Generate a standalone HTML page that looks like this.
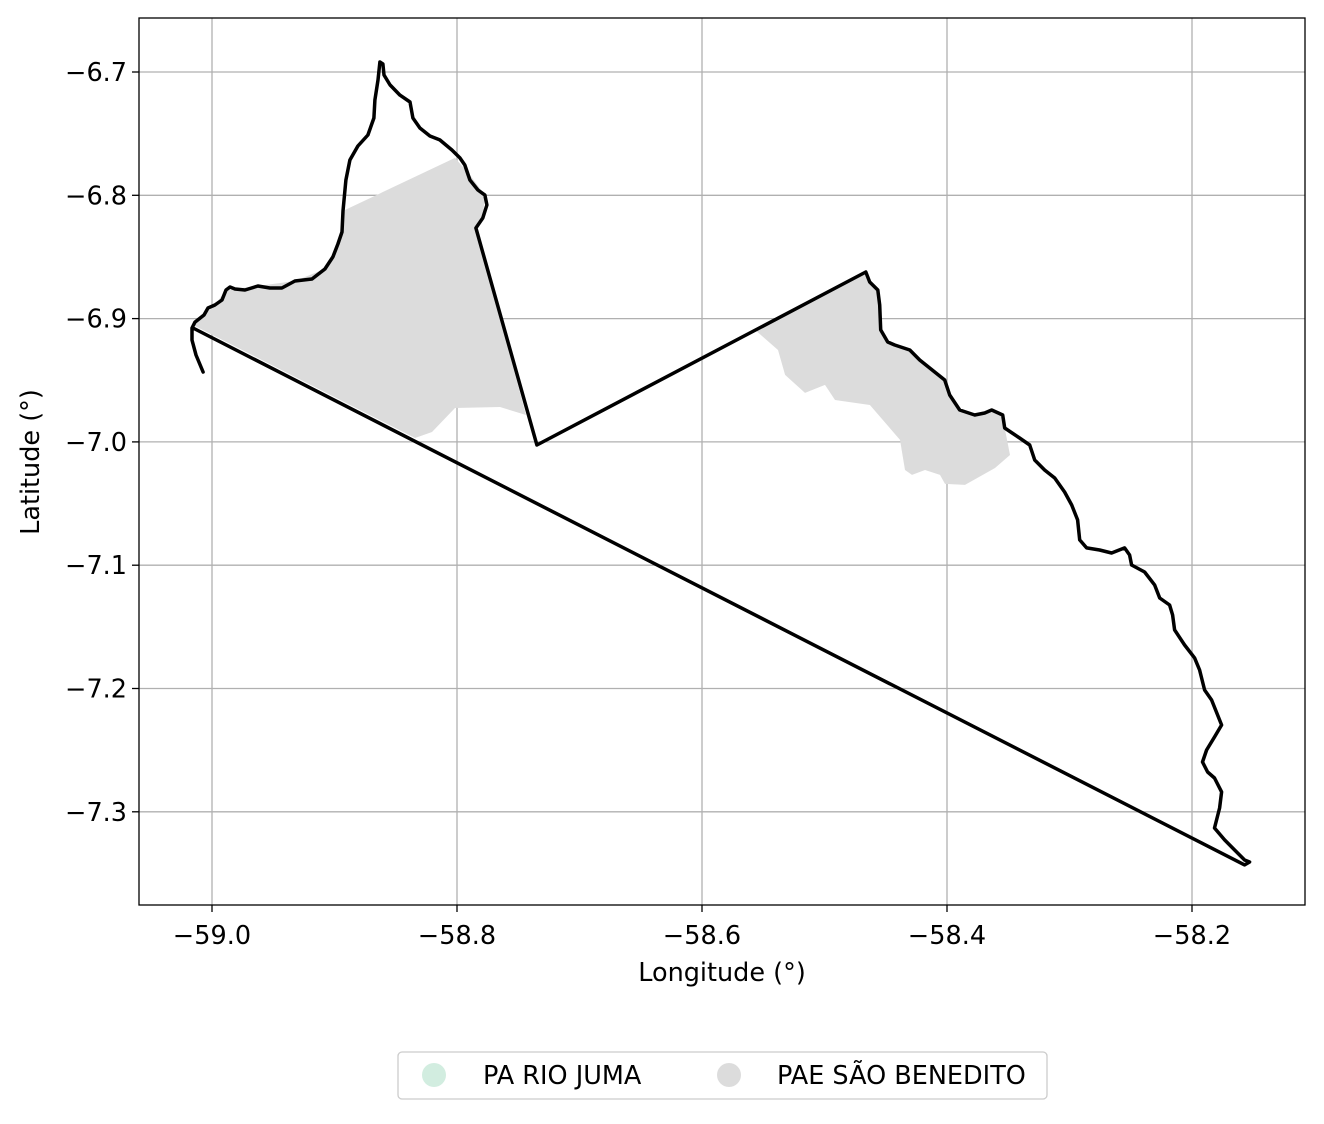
<!DOCTYPE html>
<html><head><meta charset="utf-8"><style>
html,body{margin:0;padding:0;background:#fff;}
svg text{font-family:"DejaVu Sans","Liberation Sans",sans-serif;}
</style></head><body>
<svg id="chart" width="1324" height="1119" xmlns="http://www.w3.org/2000/svg">
<rect width="1324" height="1119" fill="#fff"/>
<g id="grid"></g>
<g id="areas"></g>
<g id="outline"></g>
<rect x="139" y="18" width="1166" height="887" fill="none" stroke="#000" stroke-width="1.3"/>
<g id="ticks"></g>
<text x="722" y="981" font-size="25.5" text-anchor="middle">Longitude (°)</text>
<text transform="translate(39,462) rotate(-90)" font-size="25.5" text-anchor="middle">Latitude (°)</text>
<g>
<rect x="398" y="1052" width="649" height="47" rx="4" fill="#fff" stroke="#ccc" stroke-width="1.3"/>
<circle cx="434" cy="1075" r="12" fill="#d2ede0"/>
<text x="483" y="1084" font-size="25.5">PA RIO JUMA</text>
<circle cx="729" cy="1075" r="12" fill="#dcdcdc"/>
<text x="777" y="1084" font-size="25.5">PAE SÃO BENEDITO</text>
</g>
</svg>
<script>
const xTicks=[-59.0,-58.8,-58.6,-58.4,-58.2];
const yTicks=[-6.7,-6.8,-6.9,-7.0,-7.1,-7.2,-7.3];
const xTickLabels=["−59.0","−58.8","−58.6","−58.4","−58.2"];
const yTickLabels=["−6.7","−6.8","−6.9","−7.0","−7.1","−7.2","−7.3"];
const outlineLonLat=[[-59.0073,-6.9433],[-59.0131,-6.9295],[-59.0163,-6.9174],[-59.0163,-6.9076],[-59.0139,-6.9028],[-59.0065,-6.8971],[-59.0033,-6.8914],[-58.9976,-6.8890],[-58.9918,-6.8849],[-58.9886,-6.8768],[-58.9853,-6.8744],[-58.9812,-6.8760],[-58.9731,-6.8768],[-58.9625,-6.8736],[-58.9527,-6.8752],[-58.9429,-6.8752],[-58.9323,-6.8695],[-58.9184,-6.8679],[-58.9078,-6.8598],[-58.9013,-6.8500],[-58.8972,-6.8395],[-58.8939,-6.8298],[-58.8931,-6.8127],[-58.8907,-6.7876],[-58.8874,-6.7714],[-58.8809,-6.7600],[-58.8727,-6.7511],[-58.8678,-6.7373],[-58.8670,-6.7227],[-58.8645,-6.7065],[-58.8629,-6.6919],[-58.8605,-6.6935],[-58.8596,-6.7024],[-58.8547,-6.7105],[-58.8466,-6.7187],[-58.8384,-6.7243],[-58.8360,-6.7373],[-58.8303,-6.7454],[-58.8221,-6.7519],[-58.8140,-6.7551],[-58.8042,-6.7633],[-58.7976,-6.7697],[-58.7936,-6.7754],[-58.7895,-6.7876],[-58.7829,-6.7957],[-58.7772,-6.7998],[-58.7756,-6.8079],[-58.7789,-6.8184],[-58.7846,-6.8265],[-58.7348,-7.0025],[-58.4663,-6.8622],[-58.4631,-6.8703],[-58.4565,-6.8768],[-58.4549,-6.8890],[-58.4541,-6.9092],[-58.4484,-6.9190],[-58.4427,-6.9214],[-58.4304,-6.9255],[-58.4223,-6.9336],[-58.4141,-6.9401],[-58.4019,-6.9498],[-58.3978,-6.9620],[-58.3896,-6.9741],[-58.3774,-6.9782],[-58.3692,-6.9766],[-58.3635,-6.9741],[-58.3545,-6.9782],[-58.3529,-6.9887],[-58.3407,-6.9968],[-58.3325,-7.0025],[-58.3284,-7.0147],[-58.3203,-7.0228],[-58.3121,-7.0293],[-58.3040,-7.0406],[-58.2982,-7.0512],[-58.2934,-7.0633],[-58.2917,-7.0795],[-58.2860,-7.0860],[-58.2754,-7.0877],[-58.2656,-7.0901],[-58.2550,-7.0860],[-58.2509,-7.0917],[-58.2493,-7.0998],[-58.2387,-7.1055],[-58.2305,-7.1160],[-58.2264,-7.1266],[-58.2183,-7.1323],[-58.2158,-7.1404],[-58.2142,-7.1525],[-58.2060,-7.1647],[-58.1979,-7.1752],[-58.1938,-7.1850],[-58.1897,-7.2012],[-58.1840,-7.2093],[-58.1791,-7.2215],[-58.1758,-7.2296],[-58.1816,-7.2393],[-58.1881,-7.2499],[-58.1914,-7.2596],[-58.1873,-7.2677],[-58.1816,-7.2726],[-58.1758,-7.2839],[-58.1775,-7.2969],[-58.1816,-7.3131],[-58.1734,-7.3228],[-58.1653,-7.3309],[-58.1571,-7.3391],[-58.1530,-7.3407],[-58.1571,-7.3431],[-59.0155,-6.9076]];
const grayWestLonLat=[[-59.0155,-6.9052],[-58.9976,-6.8890],[-58.9886,-6.8768],[-58.9625,-6.8736],[-58.9323,-6.8695],[-58.9078,-6.8598],[-58.8972,-6.8395],[-58.8915,-6.8119],[-58.8016,-6.7697],[-58.7895,-6.7835],[-58.7772,-6.7998],[-58.7789,-6.8184],[-58.7846,-6.8265],[-58.7437,-6.9782],[-58.7649,-6.9717],[-58.8016,-6.9725],[-58.8204,-6.9920],[-58.8343,-6.9968]];
const grayEastLonLat=[[-58.5567,-6.9092],[-58.4663,-6.8622],[-58.4631,-6.8703],[-58.4565,-6.8768],[-58.4549,-6.8890],[-58.4541,-6.9092],[-58.4484,-6.9190],[-58.4304,-6.9255],[-58.4141,-6.9401],[-58.4019,-6.9498],[-58.3978,-6.9620],[-58.3896,-6.9741],[-58.3774,-6.9782],[-58.3635,-6.9741],[-58.3545,-6.9782],[-58.3529,-6.9887],[-58.3486,-7.0106],[-58.3608,-7.0212],[-58.3853,-7.0349],[-58.4016,-7.0341],[-58.4057,-7.0268],[-58.4180,-7.0228],[-58.4286,-7.0268],[-58.4343,-7.0228],[-58.4384,-6.9984],[-58.4629,-6.9701],[-58.4914,-6.9660],[-58.4996,-6.9538],[-58.5159,-6.9603],[-58.5322,-6.9457],[-58.5380,-6.9255]];

const NS="http://www.w3.org/2000/svg";
const X0=139,X1=1305,Y0=18,Y1=905;
function xs(lon){return 212+(lon+59.0)*1225;}
function ys(lat){return 72+(-6.7-lat)*1233;}
function mk(tag,attrs,parent){const e=document.createElementNS(NS,tag);for(const k in attrs)e.setAttribute(k,attrs[k]);parent.appendChild(e);return e;}
const grid=document.getElementById('grid'),ticks=document.getElementById('ticks');
xTicks.forEach((v,i)=>{const x=xs(v);
 const g=mk('line',{x1:x,x2:x,y1:Y0,y2:Y1,stroke:'#b0b0b0','stroke-width':1.3},grid);
 
 
 const t=mk('line',{x1:x,x2:x,y1:Y1,y2:Y1+7,stroke:'#000','stroke-width':1.3},ticks);
 
 
 const l=mk('text',{x:x,y:Y1+39,'font-size':25.5,'text-anchor':'middle'},ticks);l.textContent=xTickLabels[i];
 
 
});
yTicks.forEach((v,i)=>{const y=ys(v);
 const g=mk('line',{x1:X0,x2:X1,y1:y,y2:y,stroke:'#b0b0b0','stroke-width':1.3},grid);
 
 
 const t=mk('line',{x1:X0-7,x2:X0,y1:y,y2:y,stroke:'#000','stroke-width':1.3},ticks);
 
 
 const l=mk('text',{x:X0-12,y:y+9,'font-size':25.5,'text-anchor':'end'},ticks);l.textContent=yTickLabels[i];
 
 
});
function pts(arr){return arr.map(p=>xs(p[0]).toFixed(1)+','+ys(p[1]).toFixed(1)).join(' ');}
const areas=document.getElementById('areas');
const a1=mk('polygon',{points:pts(grayWestLonLat),fill:'#dcdcdc'},areas);


const a2=mk('polygon',{points:pts(grayEastLonLat),fill:'#dcdcdc'},areas);


const o=mk('polyline',{points:pts(outlineLonLat),fill:'none',stroke:'#000','stroke-width':3.5,'stroke-linejoin':'round','stroke-linecap':'round'},document.getElementById('outline'));


</script>
</body></html>
